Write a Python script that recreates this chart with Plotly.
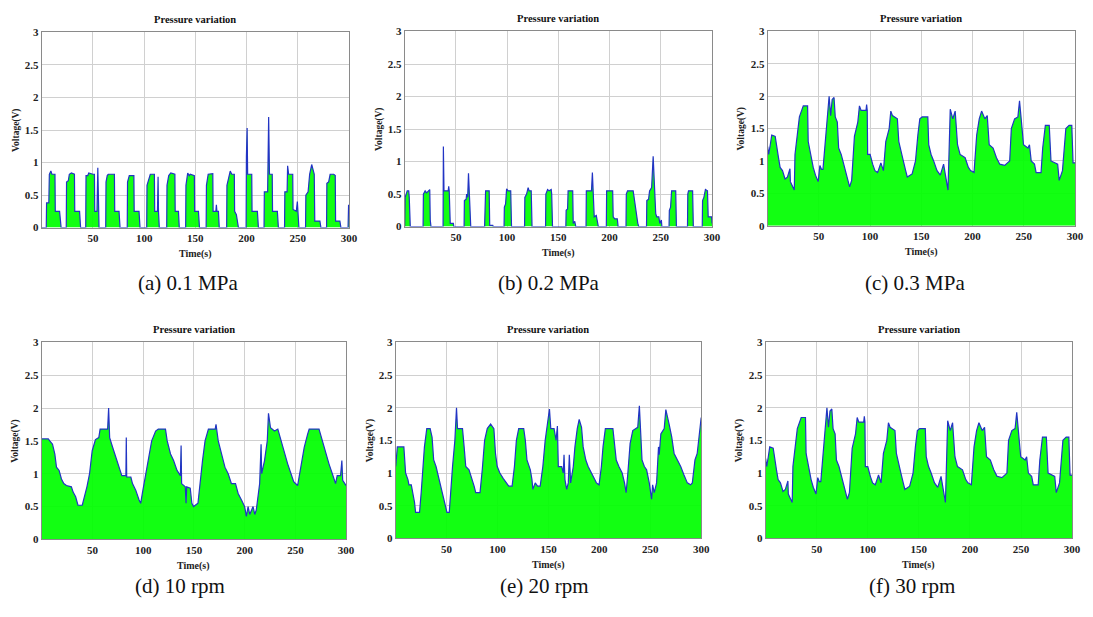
import plotly.graph_objects as go

W, H = 1093, 617

# ---------------- data (time s, voltage V) ----------------
series_a = [(0,0),(4.5,0),(4.8,0.38),(7,0.38),(7.5,0.82),(9,0.87),(10,0.82),(13,0.82),(13.3,0.25),(17.5,0.25),(19,0),
            (24,0),(24.3,0.7),(26,0.72),(27,0.82),(29,0.84),(32,0.82),(32.3,0.25),(37,0.25),(38,0),
            (43,0),(43.3,0.8),(45,0.8),(46,0.84),(50,0.82),(51.5,0.82),(51.8,0.25),(54,0.25),(54.8,0.92),(55.2,0.25),(56,0),
            (62.5,0),(62.8,0.7),(64,0.8),(65,0.82),(71,0.82),(71.3,0.25),(75.5,0.25),(76.5,0),
            (83.5,0),(83.8,0.7),(85.5,0.8),(90,0.8),(90.3,0.25),(95,0.25),(96,0),
            (102.5,0),(102.8,0.65),(104.5,0.75),(106,0.82),(110,0.82),(110.3,0.25),(113,0.25),(113.6,0.78),(114,0.25),(114.8,0),
            (122,0),(122.3,0.65),(124,0.8),(126,0.84),(130,0.82),(130.3,0.25),(133.5,0.25),(134.3,0),
            (140.5,0),(140.8,0.65),(142.5,0.84),(144,0.8),(145,0.82),(149,0.8),(149.3,0.25),(153,0.25),(154,0),
            (160.5,0),(160.8,0.65),(162.5,0.82),(167,0.83),(167.3,0.25),(170,0.25),(170.5,0.35),(171,0.25),(172.5,0.25),(173.3,0),
            (180.5,0),(180.8,0.65),(182.5,0.8),(184,0.87),(185.5,0.82),(188,0.82),(188.3,0.25),(190,0.2),(192,0),
            (199.5,0),(199.8,1.1),(200.5,1.53),(201,0.82),(205,0.82),(205.3,0.25),(210.5,0.25),(211.5,0),
            (217,0),(217.3,0.55),(220.5,0.55),(221.5,1.7),(222.3,0.82),(225,0.82),(225.3,0.25),(230,0.25),(231,0),
            (237,0),(237.3,0.55),(239.5,0.55),(240,0.95),(241,0.82),(245,0.82),(245.3,0.28),(248.5,0.25),(249.5,0.4),(250,0.25),(251,0),
            (257.5,0),(257.8,0.5),(260,0.55),(261.5,0.82),(263.5,0.97),(265,0.9),(266,0.82),(266.5,0.1),(271.5,0.1),(272.5,0),
            (278,0),(278.3,0.68),(280,0.7),(281.5,0.82),(285,0.82),(286.5,0.8),(286.8,0.1),(291,0.1),(292,0),
            (299,0),(299.5,0.35),(300,0.3)]

series_b = [(0,0),(0.5,0.45),(1.5,0.5),(2.5,0.55),(4,0.55),(4.5,0.45),(5.5,0),
            (18,0),(18.3,0.5),(20,0.55),(21.5,0.52),(23,0.55),(24.5,0.57),(25,0.1),(25.7,0),
            (37.5,0),(37.8,1.23),(38.4,0.55),(42.5,0.55),(43,0.62),(43.5,0.55),(44.5,0.05),(47.5,0.05),(48,0),
            (58,0),(58.3,0.4),(60,0.42),(60.5,0.5),(61.5,0.45),(62.3,0.82),(62.8,0.55),(63.5,0.55),(64.5,0),
            (78,0),(78.3,0.5),(79,0.55),(82.5,0.55),(83,0.02),(86,0.02),(86.5,0),
            (97,0),(97.3,0.3),(98.5,0.35),(99.5,0.58),(101,0.55),(103.5,0.55),(104.3,0),
            (117,0),(117.3,0.45),(119,0.5),(120.5,0.6),(121.5,0.55),(123.5,0.55),(124.3,0),
            (137.5,0),(137.8,0.5),(139.5,0.57),(141,0.55),(143,0.57),(143.5,0.5),(144.3,0),
            (157.3,0),(157.6,0.25),(159,0.27),(159.5,0.55),(164,0.55),(164.5,0.05),(166,0.08),(167,0),
            (177,0),(177.3,0.55),(182.3,0.55),(183.2,0.83),(183.8,0.5),(185,0.15),(187,0.17),(188,0.1),(189,0),
            (196.8,0),(197.1,0.55),(203,0.55),(203.5,0.15),(205,0.12),(207.5,0.12),(208.3,0),
            (216,0),(216.3,0.5),(217.5,0.55),(223,0.55),(225,0.3),(227.5,0.05),(228.5,0),
            (236,0),(236.3,0.4),(238,0.42),(239,0.55),(241,0.6),(242.5,1.08),(243.5,0.7),(245,0.2),(246,0.15),(248,0.15),(249,0.05),(250.5,0.1),(251,0),
            (258,0),(258.3,0.25),(259.5,0.3),(260.5,0.55),(264.5,0.55),(265.2,0),
            (276,0),(276.3,0.5),(277,0.55),(281,0.55),(281.7,0),
            (290.4,0),(290.7,0.4),(292,0.45),(293.5,0.57),(295.5,0.55),(296.2,0.15),(299.5,0.15),(300,0.05)]

series_c = [(0,1.22),(1,1.1),(2.6,1.25),(4,1.4),(7.4,1.38),(8.4,1.25),(10.6,1.05),(12.2,0.9),(14.5,0.85),(17,0.72),
            (19.3,0.75),(21.8,0.88),(22.2,0.68),(24.5,0.6),(26,0.55),(26.7,1.1),(29.3,1.4),(31,1.68),(34.8,1.85),(39,1.85),
            (39.6,1.3),(42.2,1.05),(44.5,0.9),(46.7,0.78),(49.3,0.68),(51,0.93),(52.5,0.87),(54,0.87),(56.4,1.28),(58.3,1.6),
            (60,2.0),(61.5,1.7),(63,1.95),(64.8,1.98),(66,1.68),(68,1.6),(69.3,1.2),(71.8,1.1),(74.4,0.95),(76.7,0.8),
            (80,0.6),(82,0.7),(84.7,1.38),(88,1.6),(89.6,1.85),(91.2,1.78),(96,1.78),(96.6,1.87),(97.2,1.78),(97.6,1.1),
            (100,1.1),(102.5,0.95),(104.7,0.85),(107.3,0.82),(110.5,0.97),(113,0.85),(115.3,1.3),(118.6,1.5),(120.2,1.77),
            (121.8,1.7),(126.6,1.65),(128,1.3),(130.5,1.15),(132.4,1.0),(134.7,0.85),(136.3,0.75),(141,0.8),(144.3,1.0),
            (146.6,1.4),(148.5,1.65),(150.8,1.68),(156.3,1.68),(157.2,1.25),(159.5,1.1),(162,1.0),(165.3,0.85),(168.5,0.78),
            (171.7,0.95),(173.3,0.8),(176,0.55),(178.2,1.8),(180.7,1.65),(183,1.77),(185.3,1.25),(187.8,1.1),(192.7,1.05),
            (195.9,0.9),(198,0.85),(201.4,0.82),(204,1.4),(206.5,1.65),(208.8,1.77),(212,1.65),(214.3,1.7),(216.2,1.25),
            (220,1.2),(223.3,1.05),(226.5,0.95),(231.3,0.93),(236.2,1.0),(237.8,1.5),(241,1.65),(244.2,1.68),(245.8,1.93),
            (247.4,1.65),(249.7,1.25),(254,1.2),(255.5,1.25),(257.2,1.0),(260.4,0.95),(262,0.82),(266.8,0.82),(268.4,1.2),
            (271,1.55),(274.8,1.55),(276.5,1.0),(283,0.95),(284.5,0.7),(287.7,0.85),(291,1.5),(294.2,1.55),(296.8,1.55),
            (298,0.97),(300,0.97)]

series_d = [(0,1.53),(6.5,1.53),(8,1.5),(10.7,1.45),(13,1.3),(14.6,1.1),(17.2,1.05),(19.5,0.92),(21.8,0.85),(24.4,0.82),
            (29.3,0.8),(31,0.72),(33.5,0.65),(35.8,0.52),(40,0.52),(42.3,0.65),(44.6,0.8),(47.2,1.0),(49.8,1.35),(53,1.52),
            (56.3,1.55),(57.6,1.68),(65,1.68),(66,2.0),(67,1.55),(70,1.4),(73.2,1.25),(76.5,1.1),(79,0.97),(83,0.97),
            (83.4,1.55),(83.8,0.95),(87.9,0.95),(89.5,0.85),(92.7,0.75),(96,0.6),(97.6,0.55),(99.2,0.7),(102.5,1.0),
            (105.7,1.3),(108.4,1.5),(112.3,1.65),(114.9,1.68),(122,1.68),(123.7,1.5),(127,1.3),(130,1.2),(133.4,1.05),
            (136.7,0.97),(137.4,1.43),(137.9,0.85),(141.5,0.8),(142.3,0.55),(142.9,0.8),(146.4,0.78),(148,0.55),(149.7,0.5),
            (154,0.55),(156.2,0.9),(158.5,1.2),(161,1.5),(164.3,1.68),(171,1.68),(171.8,1.75),(174,1.5),(177.3,1.3),
            (180.6,1.1),(183.8,1.0),(187,0.85),(191,0.85),(193.6,0.7),(196.9,0.6),(200,0.5),(201.7,0.35),(203.4,0.5),
            (205,0.38),(208.3,0.5),(210,0.38),(211.5,0.45),(214.8,0.85),(216.2,1.45),(216.8,1.0),(219.6,1.2),(222.3,1.5),
            (223.5,1.92),(225.5,1.7),(229.4,1.65),(232.7,1.68),(236,1.5),(239.2,1.3),(242.4,1.15),(245.7,1.0),(248.3,0.88),
            (252.2,0.82),(255.4,1.1),(258.7,1.4),(262,1.6),(263.6,1.68),(273.3,1.68),(276.6,1.5),(279.8,1.3),(283.1,1.15),
            (286.4,1.0),(289.6,0.85),(291.2,0.97),(294.5,0.97),(295.8,1.2),(296.6,0.9),(300,0.82)]

series_e = [(0,1.1),(1.6,1.4),(8,1.4),(9.7,1.0),(12,0.9),(13,0.82),(15.3,0.82),(17,0.7),(18.5,0.55),(19.5,0.4),
            (23.4,0.4),(25,0.7),(26.6,1.1),(28.2,1.4),(30.5,1.68),(33.8,1.68),(35.7,1.55),(37.3,1.2),(39.6,1.1),(41.9,0.95),
            (44.5,0.8),(47,0.65),(49.4,0.5),(50.3,0.4),(52.6,0.4),(54.2,0.8),(55.8,1.1),(58.1,1.5),(59.7,2.0),(60.7,1.68),
            (65.6,1.68),(67.2,1.4),(68.8,1.1),(72,1.05),(74.3,0.95),(77,0.8),(78.6,0.7),(82.8,0.7),(85,1.05),(87.3,1.5),
            (89.9,1.68),(93.2,1.75),(96.4,1.68),(98,1.3),(99.7,1.1),(102.3,1.0),(105.5,0.92),(108.8,0.85),(111,0.8),
            (114.3,0.8),(116.6,1.1),(118.5,1.5),(120.8,1.68),(125.7,1.68),(127.3,1.5),(128.9,1.2),(132.2,1.05),(133.8,0.9),
            (134.7,0.75),(137,0.85),(139.3,0.8),(141.9,0.8),(144.5,1.1),(146.8,1.5),(148.4,1.68),(151,1.98),(152.3,1.68),
            (155.5,1.68),(157.5,1.5),(158.8,1.72),(159.7,1.1),(163,1.1),(164.6,1.0),(165.3,1.28),(166.2,0.9),(167.9,0.75),
            (169.5,0.85),(170.5,1.28),(171.8,0.85),(174.4,1.1),(176,1.4),(178.3,1.68),(180.2,1.82),(182.5,1.7),(184.1,1.4),
            (186.7,1.2),(189,1.1),(192.2,1.0),(194.5,0.95),(197.1,0.85),(199.7,0.82),(202,1.1),(203.6,1.4),(205.9,1.68),
            (213.3,1.68),(215,1.4),(216.6,1.2),(219.2,1.1),(222.4,1.0),(224.7,0.85),(226.3,0.7),(228,1.0),(230.2,1.45),
            (232.8,1.65),(237.7,1.7),(239.3,2.03),(240.6,1.68),(241.9,1.2),(244.2,1.1),(246.4,1.05),(249,0.85),(251.3,0.6),
            (252.3,0.82),(253.9,0.7),(256.2,0.85),(258.1,1.4),(258.8,1.28),(260.4,1.6),(263.7,1.68),(265.3,1.97),
            (268.5,1.75),(271.1,1.55),(273.4,1.3),(276.6,1.2),(279.9,1.1),(283.1,0.97),(286.4,0.85),(289.6,0.82),
            (291.3,0.85),(293.9,1.2),(296.1,1.3),(300,1.85)]

# panel (f) in the reference is the same recording as panel (c)
series_f = series_c

x_ticks = [50, 100, 150, 200, 250, 300]
x_tick_labels = ["50", "100", "150", "200", "250", "300"]
y_ticks = [0, 0.5, 1, 1.5, 2, 2.5, 3]
y_tick_labels = ["0", "0.5", "1", "1.5", "2", "2.5", "3"]
captions = ["(a) 0.1 MPa", "(b) 0.2 MPa", "(c) 0.3 MPa", "(d) 10 rpm", "(e) 20 rpm", "(f) 30 rpm"]
panel_title = "Pressure variation"
x_title = "Time(s)"
y_title = "Voltage(V)"

# ---------------- layout geometry (pixels) ----------------
boxes = [(42, 352, 27, 226), (408, 718, 26, 225), (774, 1084, 26, 224),
         (42, 349, 343, 544), (399, 707, 343, 543), (772, 1081, 343, 543)]
caption_x = [190, 554, 923, 181, 549, 920]
caption_y = [282, 282, 282, 592, 592, 592]

SERIF = "Liberation Serif, Times New Roman, serif"
all_series = [series_a, series_b, series_c, series_d, series_e, series_f]

fig = go.Figure()
layout = dict(width=W, height=H, margin=dict(l=0, r=0, t=0, b=0),
              paper_bgcolor="white", plot_bgcolor="white", showlegend=False)
annotations = []

def px(x):
    return x / W

def py(y):
    return 1 - y / H

for i, (ser, box) in enumerate(zip(all_series, boxes)):
    n = i + 1
    xs = [p[0] for p in ser]
    ys = [p[1] for p in ser]
    xa = "x" if n == 1 else f"x{n}"
    ya = "y" if n == 1 else f"y{n}"
    fig.add_trace(go.Scatter(x=xs, y=ys, mode="lines", fill="tozeroy",
                             fillcolor="rgba(0,255,0,0.93)",
                             line=dict(color="#2234c4", width=1.2),
                             xaxis=xa, yaxis=ya, hoverinfo="skip"))
    x0, x1, y0, y1 = box
    axis_common = dict(showgrid=True, gridcolor="#d0d0d0", gridwidth=1,
                       showline=True, mirror=True, linecolor="#8a8a8a", linewidth=1,
                       zeroline=False, ticks="",
                       tickfont=dict(family=SERIF, size=11, color="#222222", weight="bold"))
    layout["xaxis" if n == 1 else f"xaxis{n}"] = dict(
        axis_common, domain=[px(x0), px(x1)], range=[0, 300],
        tickvals=x_ticks, ticktext=x_tick_labels, anchor=ya)
    layout["yaxis" if n == 1 else f"yaxis{n}"] = dict(
        axis_common, domain=[py(y1), py(y0)], range=[0, 3],
        tickvals=y_ticks, ticktext=y_tick_labels, anchor=xa)
    cx = (x0 + x1) / 2
    annotations.append(dict(text=panel_title, x=px(cx), y=py(y0 - 13.5), xref="paper", yref="paper",
                            xanchor="center", yanchor="middle", showarrow=False,
                            font=dict(family=SERIF, size=10.5, color="#111111", weight="bold")))
    annotations.append(dict(text=x_title, x=px(cx), y=py(y1 + 27), xref="paper", yref="paper",
                            xanchor="center", yanchor="middle", showarrow=False,
                            font=dict(family=SERIF, size=10, color="#222222", weight="bold")))
    annotations.append(dict(text=y_title, x=px(x0 - 26), y=py((y0 + y1) / 2), xref="paper", yref="paper",
                            xanchor="center", yanchor="middle", showarrow=False, textangle=-90,
                            font=dict(family=SERIF, size=9.5, color="#222222", weight="bold")))
    annotations.append(dict(text=captions[i], x=px(caption_x[i]), y=py(caption_y[i]), xref="paper", yref="paper",
                            xanchor="center", yanchor="middle", showarrow=False,
                            font=dict(family=SERIF, size=21, color="#111111")))

layout["annotations"] = annotations
fig.update_layout(**layout)
fig.write_html("out.html")
